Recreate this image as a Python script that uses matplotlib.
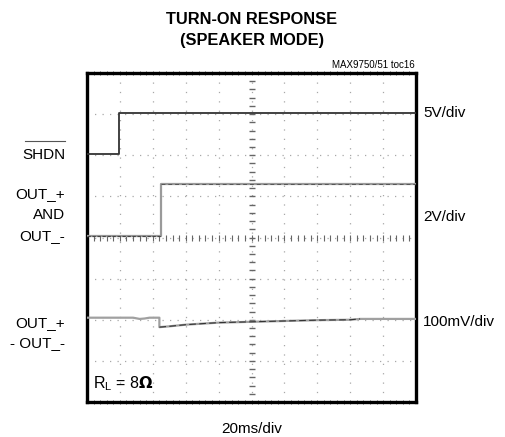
import numpy as np
import matplotlib
matplotlib.use("Agg")
import matplotlib.pyplot as plt
from matplotlib import font_manager

avail = {f.name for f in font_manager.fontManager.ttflist}
FONT = 'Liberation Sans Narrow' if 'Liberation Sans Narrow' in avail else 'Liberation Sans'
plt.rcParams['font.family'] = [FONT, 'DejaVu Sans']

# Data (in screen divisions: x 0..10, y 0..8)
shdn_t = [0.0, 0.98, 0.98, 10.0]
shdn_v = [6.02, 6.02, 7.02, 7.02]

out_t = [0.0, 2.25, 2.25, 10.0]
out_v = [4.03, 4.03, 5.3, 5.3]

diff_t = [0.0, 1.4, 1.6, 1.75, 1.9, 2.2, 2.2, 2.5, 3.0, 4.0, 5.0, 6.0, 7.0, 8.0, 8.3, 10.0]
diff_v = [2.05, 2.05, 2.02, 2.03, 2.05, 2.05, 1.82, 1.84, 1.88, 1.93, 1.95, 1.97, 1.99, 2.0, 2.02, 2.02]

left_labels = ["SHDN", "OUT_+\nAND\nOUT_-", "OUT_+\n- OUT_-"]
right_labels = ["5V/div", "2V/div", "100mV/div"]

fig = plt.figure(figsize=(5.05, 4.37), dpi=100)
ax = fig.add_axes([87/505, 1-402/437, 329/505, 329/437])
ax.set_xlim(0, 10)
ax.set_ylim(0, 8)
ax.set_xticks([]); ax.set_yticks([])
for s in ax.spines.values():
    s.set_linewidth(2.4)
    s.set_color('black')

# grid
for gx in range(1, 10):
    ax.axvline(gx, color='#a8a8a8', lw=0.9, ls=(0, (1, 6.5)), zorder=1)
for gy in range(1, 8):
    ax.axhline(gy, color='#a8a8a8', lw=0.9, ls=(0, (1, 5.0)), zorder=1)
# center cross minor ticks
ys = np.arange(0.2, 8, 0.2)
ax.plot([5]*len(ys), ys, ls='none', marker='_', ms=5, mew=1.0, color='#666', zorder=1)
xs = np.arange(0.2, 10, 0.2)
ax.plot(xs, [4]*len(xs), ls='none', marker='|', ms=4, mew=0.8, color='#666', zorder=1)
# edge ticks
ax.plot(xs, [8]*len(xs), ls='none', marker='|', ms=3, mew=0.7, color='#666', zorder=1, clip_on=False)
ax.plot(xs, [0]*len(xs), ls='none', marker='|', ms=3, mew=0.7, color='#666', zorder=1, clip_on=False)

ax.plot(shdn_t, shdn_v, color='#333333', lw=1.3, zorder=3)
ax.plot(out_t, out_v, color='#9a9a9a', lw=1.6, zorder=3)
ax.plot(out_t[:2], out_v[:2], color='#444444', lw=0.8, ls=(0, (3, 1.5)), zorder=4)
ax.plot(out_t[2:], out_v[2:], color='#555555', lw=0.7, ls=(0, (4, 3)), zorder=4)
ax.plot(diff_t, diff_v, color='#a0a0a0', lw=1.6, zorder=3)
ax.plot(diff_t[6:15], diff_v[6:15], color='#333333', lw=0.8, ls=(0, (6, 3)), zorder=4)

ax.text(0.18, 0.45, r"R$_\mathregular{L}$ = 8$\mathbf{\Omega}$", fontsize=11.5, ha='left', va='center', zorder=5)

fs = 11
def fig_text(x, y, s, **kw):
    fig.text(x/505, 1-y/437, s, **kw)

fig_text(65, 155, "SHDN", fontsize=fs, ha='right', va='center')
fig.add_artist(plt.Line2D([25/505, 65/505], [1-141/437, 1-141/437], color='#555', lw=0.8))
fig_text(65, 215, left_labels[1], fontsize=fs, ha='right', va='center', ma='right', linespacing=1.6)
fig_text(65, 333, left_labels[2], fontsize=fs, ha='right', va='center', ma='right', linespacing=1.6)

fig_text(423, 113, right_labels[0], fontsize=fs, ha='left', va='center')
fig_text(423, 217, right_labels[1], fontsize=fs, ha='left', va='center')
fig_text(423, 322, right_labels[2], fontsize=fs, ha='left', va='center')

fig_text(252, 19, "TURN-ON RESPONSE", fontsize=11.8, fontweight='bold', ha='center', va='center')
fig_text(252, 40, "(SPEAKER MODE)", fontsize=11.8, fontweight='bold', ha='center', va='center')
fig_text(415, 65, "MAX9750/51 toc16", fontsize=7, ha='right', va='center')
fig_text(252, 429, "20ms/div", fontsize=fs, ha='center', va='center')

fig.savefig("out.png", dpi=100)
